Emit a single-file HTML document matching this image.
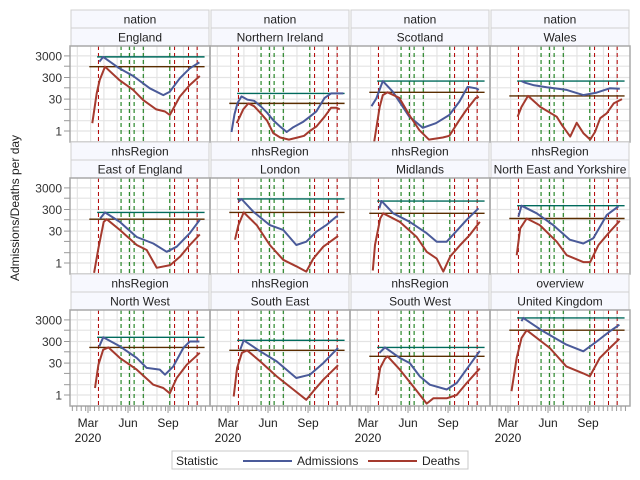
<!DOCTYPE html>
<html><head><meta charset="utf-8"><style>
html,body{margin:0;padding:0;background:#fff;}
svg{display:block;font-family:"Liberation Sans",sans-serif;}
</style></head><body>
<svg id="chart" width="640" height="480" viewBox="0 0 640 480"></svg>
<script>
// ---- data (days from 1 Mar 2020) ----
const panelNames = ["England","Northern Ireland","Scotland","Wales","East of England","London","Midlands","North East and Yorkshire","North West","South East","South West","United Kingdom"];
const panelGroups = ["nation","nation","nation","nation","nhsRegion","nhsRegion","nhsRegion","nhsRegion","nhsRegion","nhsRegion","nhsRegion","overview"];
const yTickValues = [1,30,300,3000];
const yTickLabels = ["1","30","300","3000"];
const yGridValues = [1,3,10,30,100,300,1000,3000];
const xTickDays = [0,92,184];
const xTickLabels = ["Mar","Jun","Sep"];
const redEventDays = [24,199,231,251];
const greenEventDays = [76,95,106,127,188];

const engAdmDays=[26,35,72,104,142,173,188,211,234,256];
const engAdm=[1600,2700,800,350,95,46,66,275,800,1500];
const engDthDays=[10,20,27,39,72,104,127,157,177,188,211,234,257];
const engDth=[2.3,55,230,950,230,80,27,10,8,5.5,39,135,350];

const niAdmDays=[8,15,22,31,45,60,75,90,105,120,135,150,173,188,203,222,237,255,265];
const niAdm=[0.9,6,20,40,28,25,14,7,3,1.6,0.9,1.5,2.7,4.6,8,34,55,55,55];
const niDthDays=[20,28,35,47,60,74,90,104,120,140,160,175,188,203,222,237,249,257];
const niDth=[2.3,5,10,19,14,7,3,0.8,0.5,0.4,0.5,0.6,1,1.6,4.6,12,12,10];

const scoAdmDays=[8,19,34,57,95,126,156,187,210,229,248,255];
const scoAdm=[14,32,205,66,4.6,1.4,2.3,5.5,23,110,95,80];
const scoDthDays=[14,27,34,45,72,95,118,140,172,187,210,226,248,255];
const scoDth=[0.3,13,46,62,34,5.5,1.1,0.4,0.5,0.6,3.2,9.4,34,38];

const walAdmDays=[31,40,60,89,135,173,204,234,257];
const walAdm=[205,170,130,105,80,46,60,95,90];
const walDthDays=[22,31,46,74,112,124,143,158,173,189,200,212,227,243,262];
const walDth=[4.6,13,42,13,4.6,1.9,0.55,2.4,0.8,0.4,0.9,3.9,6.6,19,30];

const eoeAdmDays=[28,39,73,112,150,181,204,234,257];
const eoeAdm=[115,220,80,16,8,3.3,5.7,24,100];
const eoeDthDays=[14,24,36,43,73,112,135,158,189,212,234,257];
const eoeDth=[0.35,4.8,80,107,34,6.8,4,0.6,0.8,2,6.8,21];

const lonAdmDays=[24,31,58,96,127,157,180,203,226,249,253];
const lonAdm=[690,920,240,57,34,6.8,9.7,28,57,140,140];
const lonDthDays=[16,24,36,66,96,127,157,180,196,219,253];
const lonDth=[12,57,220,57,6.8,1.4,0.7,0.4,1.6,5.7,18];

const midAdmDays=[26,31,58,96,135,158,181,204,227,254];
const midAdm=[340,740,200,80,24,9.7,9.7,31,100,340];
const midDthDays=[11,16,28,35,73,112,135,158,173,189,212,234,257];
const midDth=[0.45,6.8,115,200,80,16,3.3,1.6,0.4,2,6.8,20,80];

const neyAdmDays=[24,31,66,104,142,173,196,227,254];
const neyAdm=[140,450,200,57,12,8,14,165,420];
const neyDthDays=[20,28,43,73,112,135,173,189,208,234,257];
const neyDth=[2.3,40,115,57,9.7,2.3,1.1,1.1,6.8,28,90];

const nwAdmDays=[26,35,73,112,135,165,177,196,219,234,256];
const nwAdm=[180,470,180,52,18,15,8.7,21,150,300,300];
const nwDthDays=[16,24,35,47,73,112,150,173,188,204,227,257];
const nwDth=[2.1,25,125,160,52,15,3,2.1,1.2,6.1,25,90];

const seAdmDays=[28,36,74,112,157,188,219,249,253];
const seAdm=[125,340,105,36,6.1,8.7,30,125,150];
const seDthDays=[13,21,32,44,74,112,150,180,196,219,253];
const seDth=[0.85,18,90,117,36,7.3,1.8,0.6,1.5,5.1,24];

const swAdmDays=[26,39,73,96,119,142,181,204,234,257];
const swAdm=[88,160,52,30,7.3,3,1.8,3.6,25,110];
const swDthDays=[18,28,39,45,73,104,135,150,181,204,227,257];
const swDth=[1,18,48,62,15,2.5,0.4,0.7,0.7,1,3.6,17];

const ukAdmDays=[31,35,81,134,173,204,234,256];
const ukAdm=[2600,3700,890,215,105,300,890,1800];
const ukDthDays=[8,20,31,43,96,134,173,188,211,234,256];
const ukDth=[1.5,52,430,1000,150,21,10,7.3,52,150,400];

const panelSeries=[
 [engAdmDays,engAdm,engDthDays,engDth],[niAdmDays,niAdm,niDthDays,niDth],
 [scoAdmDays,scoAdm,scoDthDays,scoDth],[walAdmDays,walAdm,walDthDays,walDth],
 [eoeAdmDays,eoeAdm,eoeDthDays,eoeDth],[lonAdmDays,lonAdm,lonDthDays,lonDth],
 [midAdmDays,midAdm,midDthDays,midDth],[neyAdmDays,neyAdm,neyDthDays,neyDth],
 [nwAdmDays,nwAdm,nwDthDays,nwDth],[seAdmDays,seAdm,seDthDays,seDth],
 [swAdmDays,swAdm,swDthDays,swDth],[ukAdmDays,ukAdm,ukDthDays,ukDth]];

// ---- drawing ----
const NS="http://www.w3.org/2000/svg";
const svg=document.getElementById('chart');
function mk(tag,attrs,parent){const e=document.createElementNS(NS,tag);for(const k in attrs)e.setAttribute(k,attrs[k]);(parent||svg).appendChild(e);return e;}
const PLOT_W=140,PLOT_H=96,COL0=70,ROW0=10,ROW_STEP=132;
function xScale(col,day){return COL0+col*PLOT_W+18+day*0.435;}
function yScale(top,v){return top+85-21.6*Math.log10(v);}
const BLUE="#4a5a99",RED="#a53a2e";

const defs=mk('defs',{});
for(let p=0;p<12;p++){
  const col=p%4,row=Math.floor(p/4);
  const left=COL0+col*PLOT_W, hTop=ROW0+row*ROW_STEP, top=hTop+36;
  const g=mk('g',{});
  
  
  // headers
  const h1=mk('rect',{x:left+1,y:hTop,width:PLOT_W-2,height:18,fill:'#f7f8fe',stroke:'#d0d0d0','stroke-width':1},g);
  
  const t1=mk('text',{x:left+PLOT_W/2,y:hTop+13.5,'text-anchor':'middle','font-size':12,fill:'#222'},g);t1.textContent=panelGroups[p];
  
  const h2=mk('rect',{x:left+1,y:hTop+18,width:PLOT_W-2,height:18,fill:'#f7f8fe',stroke:'#d0d0d0','stroke-width':1},g);
  
  const t2=mk('text',{x:left+PLOT_W/2,y:hTop+31.5,'text-anchor':'middle','font-size':12,fill:'#222'},g);t2.textContent=panelNames[p];
  
  // grid
  for(let m=-1;m<10;m++){const gx=xScale(col,6+m*30.5);if(gx>left&&gx<left+PLOT_W)mk('line',{x1:gx,x2:gx,y1:top,y2:top+PLOT_H,stroke:'#e4e4e4','stroke-width':1.2},g);}
  yGridValues.forEach(v=>{const gy=yScale(top,v);mk('line',{x1:left,x2:left+PLOT_W,y1:gy,y2:gy,stroke:'#e4e4e4','stroke-width':1.2},g);});
  // clip
  const cp=mk('clipPath',{id:'c'+p},defs);mk('rect',{x:left,y:top,width:PLOT_W,height:PLOT_H},cp);
  const pg=mk('g',{'clip-path':'url(#c'+p+')'},g);
  // event lines
  redEventDays.forEach(d=>{const ex=xScale(col,d);const l=mk('line',{x1:ex,x2:ex,y1:top,y2:top+PLOT_H,stroke:'#b00000','stroke-width':1,'stroke-dasharray':'4,3'},pg);});
  greenEventDays.forEach(d=>{const ex=xScale(col,d);const l=mk('line',{x1:ex,x2:ex,y1:top,y2:top+PLOT_H,stroke:'#007000','stroke-width':1,'stroke-dasharray':'4,3'},pg);});
  const [ad,av,dd,dv]=panelSeries[p];
  // peak lines
  const ay=yScale(top,Math.max(...av)), dy=yScale(top,Math.max(...dv));
  const pl1=mk('line',{x1:xScale(col,21),x2:xScale(col,268),y1:ay,y2:ay,stroke:'#006a5c','stroke-width':1.4},pg);
  
  const pl2=mk('line',{x1:xScale(col,3),x2:xScale(col,268),y1:dy,y2:dy,stroke:'#5a2d00','stroke-width':1.4},pg);
  
  // series
  const aPts=ad.map((d,i)=>xScale(col,d).toFixed(1)+','+yScale(top,av[i]).toFixed(1)).join(' ');
  const dPts=dd.map((d,i)=>xScale(col,d).toFixed(1)+','+yScale(top,dv[i]).toFixed(1)).join(' ');
  const s1=mk('polyline',{points:aPts,fill:'none',stroke:BLUE,'stroke-width':2,'stroke-linejoin':'round'},pg);
  
  const s2=mk('polyline',{points:dPts,fill:'none',stroke:RED,'stroke-width':2,'stroke-linejoin':'round'},pg);
  
  // frame
  mk('rect',{x:left,y:top,width:PLOT_W,height:PLOT_H,fill:'none',stroke:'#a8a8a8','stroke-width':1.5},g);
  // y axis
  if(col===0){
    yGridValues.forEach(v=>{const gy=yScale(top,v);mk('line',{x1:64,x2:70,y1:gy,y2:gy,stroke:'#999'},g);});
    yTickValues.forEach((v,i)=>{const t=mk('text',{x:62,y:yScale(top,v)+4.5,'text-anchor':'end','font-size':12,fill:'#333'},g);t.textContent=yTickLabels[i];
      });
  }
  // x axis
  if(row===2){
    const by=top+PLOT_H;
    for(let d=-36;d<=272;d+=10.2){const tx=xScale(col,d);if(tx>left+2&&tx<left+PLOT_W-1)mk('line',{x1:tx,x2:tx,y1:by,y2:by+5,stroke:'#999'},g);}
    xTickDays.forEach((d,i)=>{const tx=xScale(col,d);mk('line',{x1:tx,x2:tx,y1:by,y2:by+7,stroke:'#999'},g);
      const t=mk('text',{x:tx,y:by+21,'text-anchor':'middle','font-size':12,fill:'#222'},g);t.textContent=xTickLabels[i];
      
      if(i===0){const t2=mk('text',{x:tx,y:by+36,'text-anchor':'middle','font-size':12,fill:'#222'},g);t2.textContent='2020';
        }
    });
  }
}
// y title
const yt=mk('text',{x:0,y:0,transform:'translate(19,208) rotate(-90)','text-anchor':'middle','font-size':12,fill:'#222'});
yt.textContent='Admissions/Deaths per day';

// legend
const lg=mk('g',{});

mk('rect',{x:172,y:451,width:296,height:18,fill:'#fff',stroke:'#c8c8c8'},lg);
const lt=mk('text',{x:176,y:465,'font-size':12,fill:'#222'},lg);lt.textContent='Statistic';

mk('line',{x1:243,x2:292,y1:461,y2:461,stroke:BLUE,'stroke-width':2},lg);
const la=mk('text',{x:297,y:465,'font-size':12,fill:'#222'},lg);la.textContent='Admissions';

mk('line',{x1:368,x2:417,y1:461,y2:461,stroke:RED,'stroke-width':2},lg);
const ld=mk('text',{x:422,y:465,'font-size':12,fill:'#222'},lg);ld.textContent='Deaths';

</script>
</body></html>
